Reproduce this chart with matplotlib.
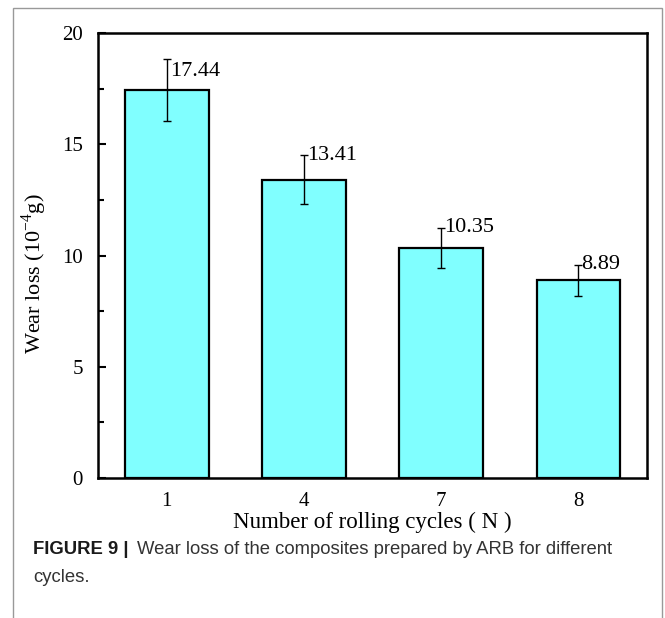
import numpy as np
import matplotlib
matplotlib.use("Agg")
import matplotlib.pyplot as plt
from matplotlib.patches import Rectangle
from matplotlib.ticker import MultipleLocator

plt.rcParams['font.family'] = 'Liberation Serif'
plt.rcParams['mathtext.fontset'] = 'custom'
plt.rcParams['mathtext.rm'] = 'Liberation Serif'

cycles = ['1', '4', '7', '8']
wear_loss = [17.44, 13.41, 10.35, 8.89]
wear_err = [1.40, 1.10, 0.90, 0.70]

fig = plt.figure(figsize=(6.65, 6.18), dpi=100)
ax = fig.add_axes([0.1474, 0.2265, 0.8256, 0.7201])

x = np.arange(1, len(cycles) + 1)
ax.bar(x, wear_loss, width=0.61, color='#80ffff', edgecolor='black',
       linewidth=1.6, zorder=2)
ax.errorbar(x, wear_loss, yerr=wear_err, fmt='none', ecolor='black',
            elinewidth=1.0, capsize=3, capthick=1.0, zorder=3)

# value labels sit beside the top of each error bar
label_dy = [-13, 0, 0, 0]
for xi, v, e, dy in zip(x, wear_loss, wear_err, label_dy):
    ax.annotate(f'{v:.2f}', (xi, v + e), xytext=(3, dy), textcoords='offset pixels',
                ha='left', va='center', fontsize=16)

ax.set_xlim(0.5, 4.5)
ax.set_ylim(0, 20)
ax.set_xticks(x)
ax.set_xticklabels(cycles)
ax.yaxis.set_major_locator(MultipleLocator(5))
ax.yaxis.set_minor_locator(MultipleLocator(2.5))
ax.tick_params(axis='x', length=0, labelsize=15, pad=10)
ax.tick_params(axis='y', which='major', direction='in', length=6, width=1.5,
               labelsize=15, pad=11)
ax.tick_params(axis='y', which='minor', direction='in', length=4, width=1.5)
for s in ax.spines.values():
    s.set_linewidth(1.8)

ax.set_xlabel('Number of rolling cycles ( N )', fontsize=16.5, labelpad=1)
ax.set_ylabel(r'Wear loss (10$^{\mathrm{-4}}$g)', fontsize=16, labelpad=9)
ax.yaxis.label.set_y(0.46)

# caption under the chart
cap_size = 13.3
fig.text(33 / 665, 1 - 550 / 618, r'FIGURE 9 |', fontsize=cap_size, fontweight='bold',
         family='Liberation Sans', va='center', ha='left', color='#1a1a1a')
fig.text(137 / 665, 1 - 550 / 618,
         'Wear loss of the composites prepared by ARB for different',
         fontsize=cap_size, family='Liberation Sans', va='center', ha='left', color='#333333')
fig.text(33 / 665, 1 - 578 / 618, 'cycles.', fontsize=cap_size, family='Liberation Sans',
         va='center', ha='left', color='#333333')

# thin frame around the whole panel
fig.patches.append(Rectangle((13 / 665, -0.05), (662 - 13) / 665, 1 - 8 / 618 + 0.05,
                             transform=fig.transFigure, fill=False,
                             edgecolor='#999999', linewidth=1.0))

fig.savefig('out.png', dpi=100)
